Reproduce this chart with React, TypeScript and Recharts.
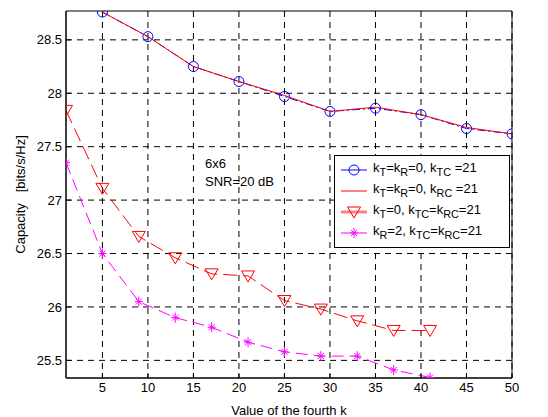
import React from "react";
import { LineChart, Line, XAxis, YAxis, CartesianGrid, ReferenceArea } from "recharts";

const xEven = [5, 10, 15, 20, 25, 30, 35, 40, 45, 50];
const xOdd = [1, 5, 9, 13, 17, 21, 25, 29, 33, 37, 41];

const capTC = [28.76, 28.53, 28.25, 28.11, 27.97, 27.83, 27.86, 27.8, 27.67, 27.62];
const capRC = [28.76, 28.53, 28.25, 28.11, 27.98, 27.83, 27.87, 27.8, 27.68, 27.62];
const capT0 = [27.84, 27.11, 26.66, 26.46, 26.31, 26.29, 26.06, 25.98, 25.87, 25.78, 25.78];
const capR2 = [27.35, 26.5, 26.05, 25.9, 25.81, 25.67, 25.58, 25.54, 25.54, 25.41, 25.34];

const xTicks = [5, 10, 15, 20, 25, 30, 35, 40, 45, 50];
const yTicks = [25.5, 26, 26.5, 27, 27.5, 28, 28.5];
const xDomain = [1, 50];
const yDomain = [25.335, 28.77];

const toRows = (xs: number[], ys: number[]) => xs.map((x, i) => ({ x, y: ys[i] }));

const dataTC = toRows(xEven, capTC);
const dataRC = toRows(xEven, capRC);
const dataT0 = toRows(xOdd, capT0);
const dataR2 = toRows(xOdd, capR2);

const FONT = "Arial, 'Liberation Sans', sans-serif";

const circleDot = (p: any) => (
  <circle key={"c" + p.index} cx={p.cx} cy={p.cy} r={5} fill="none" stroke="#0000ff" strokeWidth={1} />
);

const triangle = (cx: number, cy: number, key: string) => (
  <path key={key} d={`M${cx - 6.5},${cy - 5} L${cx + 6.5},${cy - 5} L${cx},${cy + 6} Z`} fill="none" stroke="#ff0000" strokeWidth={1} />
);
const triDot = (p: any) => triangle(p.cx, p.cy, "t" + p.index);

const star = (cx: number, cy: number, key: string) => (
  <g key={key} stroke="#ff00ff" strokeWidth={1}>
    <line x1={cx - 4} y1={cy} x2={cx + 4} y2={cy} />
    <line x1={cx} y1={cy - 5} x2={cx} y2={cy + 5} />
    <line x1={cx - 3} y1={cy - 3} x2={cx + 3} y2={cy + 3} />
    <line x1={cx - 3} y1={cy + 3} x2={cx + 3} y2={cy - 3} />
  </g>
);
const starDot = (p: any) => star(p.cx, p.cy, "s" + p.index);

const legendRows = [
  { label: <>k<sub>T</sub>=k<sub>R</sub>=0, k<sub>TC</sub> =21</>, kind: "circle" },
  { label: <>k<sub>T</sub>=k<sub>R</sub>=0, k<sub>RC</sub> =21</>, kind: "line" },
  { label: <>k<sub>T</sub>=0, k<sub>TC</sub>=k<sub>RC</sub>=21</>, kind: "tri" },
  { label: <>k<sub>R</sub>=2, k<sub>TC</sub>=k<sub>RC</sub>=21</>, kind: "star" },
];

function LegendBox() {
  return (
    <div
      style={{
        position: "absolute",
        left: 334,
        top: 155,
        border: "1px solid #000",
        background: "#fff",
        width: 176,
        height: 93,
        boxSizing: "border-box",
        padding: "3px 0 0 4px",
        fontFamily: FONT,
        fontSize: 13,
        color: "#000",
      }}
    >
      {legendRows.map((r, i) => (
        <div key={i} style={{ display: "flex", alignItems: "center", height: 21, lineHeight: "13px" }}>
          <svg width={34} height={16} style={{ flex: "none" }}>
            {r.kind === "circle" && (
              <>
                <line x1={2} y1={8} x2={28} y2={8} stroke="#0000ff" strokeWidth={1} />
                <circle cx={15} cy={8} r={5} fill="none" stroke="#0000ff" />
              </>
            )}
            {r.kind === "line" && <line x1={2} y1={8} x2={28} y2={8} stroke="#ff0000" strokeWidth={1} />}
            {r.kind === "tri" && (
              <>
                <line x1={2} y1={8} x2={28} y2={8} stroke="#ff8080" strokeWidth={3} />
                {triangle(15, 8, "lt")}
              </>
            )}
            {r.kind === "star" && (
              <>
                <line x1={2} y1={8} x2={28} y2={8} stroke="#ff00ff" strokeWidth={1} />
                {star(15, 8, "ls")}
              </>
            )}
          </svg>
          <span style={{ whiteSpace: "pre" }}>{r.label}</span>
        </div>
      ))}
    </div>
  );
}

export default function App() {
  return (
    <div style={{ position: "fixed", left: 0, top: 0, width: 548, height: 417, background: "#fff" }}>
      <LineChart width={548} height={417} margin={{ top: 11, right: 36, left: 0, bottom: 0 }}>
        <CartesianGrid xAxisId="b" yAxisId="l" stroke="#000" strokeDasharray="6 5" horizontalValues={yTicks} verticalValues={xTicks} />
        <XAxis
          xAxisId="b"
          type="number"
          dataKey="x"
          domain={xDomain}
          ticks={xTicks}
          allowDataOverflow
          height={39}
          stroke="#000"
          tickSize={-5}
          tickMargin={10}
          tick={{ fill: "#000", fontSize: 13, fontFamily: FONT }}
          label={{ value: "Value of the fourth k", position: "insideBottom", offset: 2, fill: "#000", fontSize: 13, fontFamily: FONT }}
        />
        <YAxis
          yAxisId="l"
          type="number"
          domain={yDomain}
          ticks={yTicks}
          allowDataOverflow
          width={66}
          stroke="#000"
          tickSize={-5}
          tickMargin={9}
          tick={{ fill: "#000", fontSize: 13, fontFamily: FONT }}
          label={{ value: "Capacity\u00a0\u00a0\u00a0[bits/s/Hz]", angle: -90, position: "insideLeft", offset: 20, fill: "#000", fontSize: 13, fontFamily: FONT, style: { textAnchor: "middle" } }}
        />
        <ReferenceArea xAxisId="b" yAxisId="l" x1={xDomain[0]} x2={xDomain[1]} y1={yDomain[0]} y2={yDomain[1]} fill="none" stroke="#000" strokeWidth={1} />
        <Line data={dataTC} xAxisId="b" yAxisId="l" dataKey="y" stroke="#0000ff" strokeWidth={1} strokeDasharray="8 3 2 3" dot={circleDot} activeDot={false} isAnimationActive={false} />
        <Line data={dataRC} xAxisId="b" yAxisId="l" dataKey="y" stroke="#ff0000" strokeWidth={1} dot={false} activeDot={false} isAnimationActive={false} />
        <Line data={dataT0} xAxisId="b" yAxisId="l" dataKey="y" stroke="#ff0000" strokeWidth={1} strokeDasharray="14 6" dot={triDot} activeDot={false} isAnimationActive={false} />
        <Line data={dataR2} xAxisId="b" yAxisId="l" dataKey="y" stroke="#ff00ff" strokeWidth={1} strokeDasharray="12 6" dot={starDot} activeDot={false} isAnimationActive={false} />
      </LineChart>
      <LegendBox />
      <div style={{ position: "absolute", left: 205, top: 155, fontFamily: FONT, fontSize: 13, lineHeight: "18px", color: "#000" }}>
        <div>6x6</div>
        <div>SNR=20 dB</div>
      </div>
    </div>
  );
}
